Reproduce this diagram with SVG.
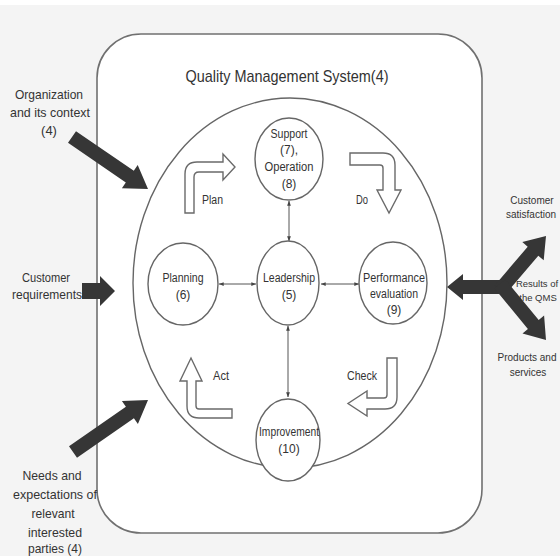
<svg xmlns="http://www.w3.org/2000/svg" width="560" height="556" viewBox="0 0 560 556">
<defs>
<style>
text{font-family:"Liberation Sans",Arial,sans-serif;fill:#333;text-anchor:middle}
.node{fill:#fff;stroke:#666;stroke-width:1.4}
.cyc{fill:#fff;stroke:#6a6a6a;stroke-width:1.4;stroke-linejoin:miter}
.big{fill:#363636}
.con{stroke:#555;stroke-width:1;fill:none;marker-start:url(#ah);marker-end:url(#ah)}
.n{font-size:12px}
.l{font-size:13px}
.r{font-size:10px}
.rs{font-size:9.5px}
</style>
<marker id="ah" viewBox="0 0 8 8" refX="7.5" refY="4" markerWidth="5" markerHeight="5" orient="auto-start-reverse" markerUnits="userSpaceOnUse">
<path d="M0,1 L8,4 L0,7 Z" fill="#444"/>
</marker>
</defs>
<rect x="0" y="0" width="560" height="556" fill="#f4f4f4"/>
<rect x="0" y="0" width="560" height="5" fill="#ffffff"/>

<g id="qms-frame">
<rect x="97" y="34" width="385" height="499" rx="44" ry="44" fill="#fff" stroke="#707070" stroke-width="1.6"/>
<text x="287" y="82" font-size="17" textLength="203" lengthAdjust="spacingAndGlyphs">Quality Management System(4)</text>
</g>

<g id="cycle">
<ellipse cx="290" cy="283" rx="157" ry="185" fill="none" stroke="#666" stroke-width="1.4"/>
</g>

<g id="pdca">
<g id="plan">
<path class="cyc" d="M185,213 L185,174 Q185,162 197,162 L223,162 L223,154 L235,167 L223,180 L223,172 L199,172 Q194,172 194,177 L194,213 Z"/>
<text class="n" x="212.5" y="204" textLength="21" lengthAdjust="spacingAndGlyphs">Plan</text>
</g>
<g id="do">
<path class="cyc" d="M350,153 L383,153 Q395,153 395,165 L395,190 L401,190 L389,213 L377,190 L383,190 L383,168 Q383,165 380,165 L350,165 Z"/>
<text class="n" x="362" y="204" textLength="12" lengthAdjust="spacingAndGlyphs">Do</text>
</g>
<g id="check">
<path class="cyc" d="M387,358 L397,358 L397,397 Q397,409 385,409 L367,409 L367,416 L348,403.5 L367,391 L367,398 L384,398 Q387,398 387,395 Z"/>
<text class="n" x="362" y="380" textLength="30" lengthAdjust="spacingAndGlyphs">Check</text>
</g>
<g id="act">
<path class="cyc" d="M232,409 L199,409 Q196,409 196,406 L196,381 L202,381 L191,358 L180,381 L187,381 L187,406 Q187,418 199,418 L232,418 Z"/>
<text class="n" x="221" y="380" textLength="16" lengthAdjust="spacingAndGlyphs">Act</text>
</g>
</g>

<g id="connectors">
<line class="con" x1="289" y1="201" x2="289" y2="241"/>
<line class="con" x1="288" y1="326" x2="288" y2="397"/>
<line class="con" x1="219" y1="284" x2="256" y2="284"/>
<line class="con" x1="321" y1="284" x2="359" y2="284"/>
</g>

<g id="support">
<ellipse class="node" cx="289" cy="159" rx="34" ry="41"/>
<text class="n" x="289" y="138" textLength="37" lengthAdjust="spacingAndGlyphs">Support</text>
<text class="n" x="289" y="154">(7),</text>
<text class="n" x="289" y="171" textLength="49" lengthAdjust="spacingAndGlyphs">Operation</text>
<text class="n" x="289" y="188">(8)</text>
</g>

<g id="planning">
<ellipse class="node" cx="183" cy="284" rx="35" ry="41"/>
<text class="n" x="183" y="282" textLength="41" lengthAdjust="spacingAndGlyphs">Planning</text>
<text class="n" x="183" y="299">(6)</text>
</g>

<g id="leadership">
<ellipse class="node" cx="288" cy="283" rx="31" ry="42"/>
<text class="n" x="289" y="282" textLength="52" lengthAdjust="spacingAndGlyphs">Leadership</text>
<text class="n" x="289" y="299">(5)</text>
</g>

<g id="performance">
<ellipse class="node" cx="393" cy="283" rx="34" ry="41"/>
<text class="n" x="394" y="282" textLength="62" lengthAdjust="spacingAndGlyphs">Performance</text>
<text class="n" x="394" y="298" textLength="48" lengthAdjust="spacingAndGlyphs">evaluation</text>
<text class="n" x="394" y="314">(9)</text>
</g>

<g id="improvement">
<ellipse class="node" cx="288" cy="440" rx="32" ry="41"/>
<text class="n" x="289" y="436" textLength="60" lengthAdjust="spacingAndGlyphs">Improvement</text>
<text class="n" x="289" y="453">(10)</text>
</g>

<g id="inputs">
<g id="in-organization">
<polygon class="big" points="68.0,142.8 76.0,131.2 133.8,170.8 137.7,165.0 148,189 121.9,188.2 125.8,182.4"/>
<text class="l" x="49" y="99" textLength="68" lengthAdjust="spacingAndGlyphs">Organization</text>
<text class="l" x="50" y="117" textLength="80" lengthAdjust="spacingAndGlyphs">and its context</text>
<text class="l" x="49" y="135">(4)</text>
</g>
<g id="in-customer">
<polygon class="big" points="82,283 100,283 100,276 115,291 100,306 100,299 82,299"/>
<text class="l" x="46" y="282" textLength="48" lengthAdjust="spacingAndGlyphs">Customer</text>
<text class="l" x="47" y="299" textLength="70" lengthAdjust="spacingAndGlyphs">requirements</text>
</g>
<g id="in-needs">
<polygon class="big" points="77.0,457.8 69.0,446.2 125.9,406.7 121.9,401.0 148,400 137.9,424.0 133.9,418.3"/>
<text class="l" x="52" y="480" textLength="59" lengthAdjust="spacingAndGlyphs">Needs and</text>
<text class="l" x="55" y="499" textLength="84" lengthAdjust="spacingAndGlyphs">expectations of</text>
<text class="l" x="53" y="518" textLength="43" lengthAdjust="spacingAndGlyphs">relevant</text>
<text class="l" x="55" y="537" textLength="54" lengthAdjust="spacingAndGlyphs">interested</text>
<text class="l" x="55" y="553" textLength="54" lengthAdjust="spacingAndGlyphs">parties (4)</text>
</g>
</g>

<g id="outputs">
<polygon class="big" points="447,287 463,274 463,280 505,280 505,294 463,294 463,300"/>
<polygon class="big" points="505.3,294.5 494.7,285.5 527.7,246.7 522.3,242.1 546,236 543.7,260.3 538.3,255.7"/>
<polygon class="big" points="494.6,288.4 505.4,279.6 538.7,320.1 544.1,315.6 546,340 522.5,333.4 527.9,328.9"/>
<text class="r" x="532" y="204">Customer</text>
<text class="r" x="531" y="218">satisfaction</text>
<text class="rs" x="537" y="287">Results of</text>
<text class="rs" x="538" y="301">the QMS</text>
<text class="r" x="527" y="361">Products and</text>
<text class="r" x="528" y="376">services</text>
</g>
</svg>
